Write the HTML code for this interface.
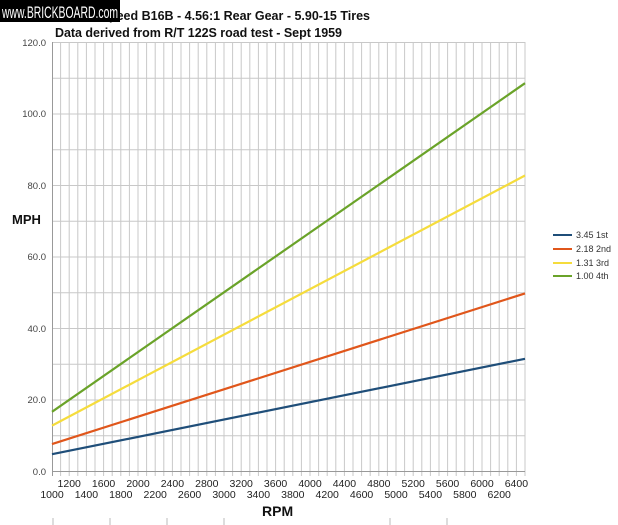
<!DOCTYPE html>
<html><head><style>
body{margin:0;background:#fff;width:618px;height:525px;overflow:hidden;position:relative;font-family:"Liberation Sans",Arial,sans-serif}
</style></head><body>
<svg width="618" height="525" style="position:absolute;left:0;top:0" font-family="Liberation Sans, Arial, sans-serif">
<g stroke="#c8c8c8" stroke-width="1">
<line x1="52" y1="42.5" x2="525" y2="42.5"/><line x1="52" y1="78.25" x2="525" y2="78.25"/>
<line x1="52" y1="114" x2="525" y2="114"/><line x1="52" y1="149.75" x2="525" y2="149.75"/>
<line x1="52" y1="185.5" x2="525" y2="185.5"/><line x1="52" y1="221.25" x2="525" y2="221.25"/>
<line x1="52" y1="257" x2="525" y2="257"/><line x1="52" y1="292.75" x2="525" y2="292.75"/>
<line x1="52" y1="328.5" x2="525" y2="328.5"/><line x1="52" y1="364.25" x2="525" y2="364.25"/>
<line x1="52" y1="400" x2="525" y2="400"/><line x1="52" y1="435.75" x2="525" y2="435.75"/>
</g>
<g stroke="#c8c8c8" stroke-width="1" id="vg"></g>
<line x1="52" y1="471.5" x2="525" y2="471.5" stroke="#999"/>
<line x1="52.5" y1="42" x2="52.5" y2="476" stroke="#999"/>
<g font-size="9.5" fill="#444" text-anchor="end">
<text x="46" y="46">120.0</text><text x="46" y="117">100.0</text><text x="46" y="189">80.0</text>
<text x="46" y="260">60.0</text><text x="46" y="332">40.0</text><text x="46" y="403">20.0</text><text x="46" y="475">0.0</text>
</g>
<g font-size="10.5" fill="#222" text-anchor="middle" id="xl"></g>
<g stroke-width="2.2" fill="none">
<line x1="52" y1="454.2" x2="525" y2="358.8" stroke="#1f4e79"/>
<line x1="52" y1="444.1" x2="525" y2="293.4" stroke="#e0561b"/>
<line x1="52" y1="425.6" x2="525" y2="175.5" stroke="#f5dc3c"/>
<line x1="52" y1="411.8" x2="525" y2="83.2" stroke="#6aa329"/>
</g>
<g font-size="9" fill="#333">
<line x1="553" y1="235" x2="572" y2="235" stroke="#1f4e79" stroke-width="2"/><text x="576" y="238">3.45  1st</text>
<line x1="553" y1="249" x2="572" y2="249" stroke="#e0561b" stroke-width="2"/><text x="576" y="252">2.18  2nd</text>
<line x1="553" y1="263" x2="572" y2="263" stroke="#f5dc3c" stroke-width="2"/><text x="576" y="266">1.31  3rd</text>
<line x1="553" y1="276" x2="572" y2="276" stroke="#6aa329" stroke-width="2"/><text x="576" y="279">1.00  4th</text>
</g>
<text x="12" y="224" font-size="13" font-weight="bold" fill="#111">MPH</text>
<text x="262" y="516" font-size="14" font-weight="bold" fill="#111">RPM</text>
<text x="370" y="20" font-size="12.5" font-weight="bold" fill="#111" text-anchor="end">Volvo 4-Speed B16B - 4.56:1 Rear Gear - 5.90-15 Tires</text>
<text x="55" y="37" font-size="12.5" font-weight="bold" fill="#111" textLength="287">Data derived from R/T 122S road test - Sept 1959</text>
<rect x="0" y="0" width="120" height="22" fill="#000"/>
<text x="2" y="18" font-size="17" fill="#fff" textLength="116" lengthAdjust="spacingAndGlyphs">www.BRICKBOARD.com</text>
<g stroke="#bbb"><line x1="53" y1="518" x2="53" y2="525"/><line x1="110" y1="518" x2="110" y2="525"/><line x1="167" y1="518" x2="167" y2="525"/><line x1="224" y1="518" x2="224" y2="525"/><line x1="390" y1="518" x2="390" y2="525"/><line x1="447" y1="518" x2="447" y2="525"/></g>
</svg>
<script>
var ns="http://www.w3.org/2000/svg",vg=document.getElementById('vg'),xl=document.getElementById('xl');
for(var r=1100;r<=6500;r+=100){var x=52+(r-1000)*0.086;var l=document.createElementNS(ns,'line');
l.setAttribute('x1',x);l.setAttribute('x2',x);l.setAttribute('y1',42);l.setAttribute('y2',476);vg.appendChild(l);}
for(var r=1000;r<=6400;r+=200){var x=52+(r-1000)*0.086;var t=document.createElementNS(ns,'text');
t.setAttribute('x',x);t.setAttribute('y',(r/200)%2?498:487);t.textContent=r;xl.appendChild(t);}
</script>
</body></html>
